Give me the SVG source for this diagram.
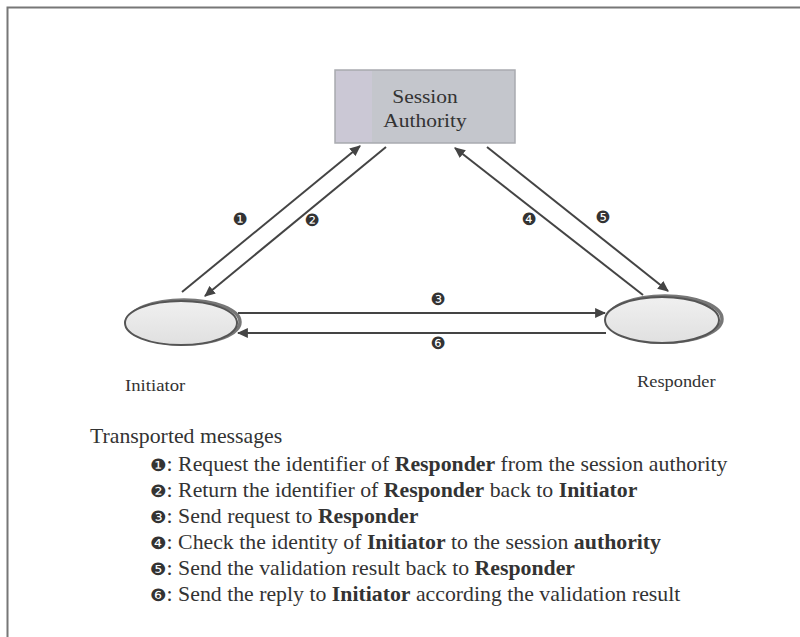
<svg xmlns="http://www.w3.org/2000/svg" width="800" height="637" viewBox="0 0 800 637">
<style>
.t{font-family:"Liberation Serif","Times New Roman",serif;fill:#333}
.b{font-weight:bold}
.n{font-family:"DejaVu Sans",sans-serif;fill:#333}
.c{stroke:#444;stroke-width:2;fill:none}
</style>
<defs>
<marker id="ah" viewBox="0 0 10 10" refX="9" refY="5" markerWidth="11" markerHeight="11" markerUnits="userSpaceOnUse" orient="auto">
<path d="M0,0.5 L10,5 L0,9.5 z" fill="#444"/>
</marker>
<linearGradient id="eg" x1="0" y1="0" x2="0" y2="1">
<stop offset="0" stop-color="#f0f0f0"/><stop offset="1" stop-color="#e0e0e0"/>
</linearGradient>
</defs>
<rect x="0" y="0" width="800" height="637" fill="#fff"/>
<path d="M7.5,637 V7.5 H800" fill="none" stroke="#777" stroke-width="2"/>
<g id="session-authority">
<rect x="335" y="70" width="180" height="73" fill="#c4c6cc" stroke="#a9aab0" stroke-width="1.5"/>
<rect x="336" y="71" width="36" height="71" fill="#cbc8d5"/>
<text class="t" transform="translate(425,103) scale(1.13,1)" font-size="19" text-anchor="middle" fill="#555">Session</text>
<text class="t" transform="translate(425,127) scale(1.13,1)" font-size="19" text-anchor="middle" fill="#555">Authority</text>
</g>
<g id="initiator">
<ellipse cx="184" cy="322" rx="56" ry="22" fill="none" stroke="#777" stroke-width="3.5"/>
<ellipse cx="181" cy="323" rx="56" ry="22" fill="url(#eg)" stroke="#555" stroke-width="2"/>
<text class="t" transform="translate(125,391) scale(1.1,1)" font-size="17">Initiator</text>
</g>
<g id="responder">
<ellipse cx="665" cy="319" rx="57" ry="23" fill="none" stroke="#777" stroke-width="3.5"/>
<ellipse cx="662" cy="320" rx="57" ry="23" fill="url(#eg)" stroke="#555" stroke-width="2"/>
<text class="t" transform="translate(637,387) scale(1.08,1)" font-size="17">Responder</text>
</g>
<g id="connectors">
<line class="c" x1="182" y1="292" x2="360" y2="146" marker-end="url(#ah)"/>
<line class="c" x1="386" y1="147" x2="205" y2="296" marker-end="url(#ah)"/>
<line class="c" x1="238" y1="313" x2="605" y2="313" marker-end="url(#ah)"/>
<line class="c" x1="606" y1="333" x2="238" y2="333" marker-end="url(#ah)"/>
<line class="c" x1="643" y1="295" x2="455" y2="148" marker-end="url(#ah)"/>
<line class="c" x1="487" y1="147" x2="668" y2="291" marker-end="url(#ah)"/>
<text class="n" x="240" y="225" font-size="17" text-anchor="middle">❶</text>
<text class="n" x="312" y="226" font-size="17" text-anchor="middle">❷</text>
<text class="n" x="438" y="305" font-size="17" text-anchor="middle">❸</text>
<text class="n" x="529" y="225" font-size="17" text-anchor="middle">❹</text>
<text class="n" x="603" y="223" font-size="17" text-anchor="middle">❺</text>
<text class="n" x="438" y="349" font-size="17" text-anchor="middle">❻</text>
</g>
<g id="legend">
<text class="t" transform="translate(90,443) scale(1.09,1)" font-size="20">Transported messages</text>
<text class="t" transform="translate(150,471) scale(1.09,1)" font-size="20"><tspan class="n" font-size="17">❶</tspan>: Request the identifier of <tspan class="b">Responder</tspan> from the session authority</text>
<text class="t" transform="translate(150,497) scale(1.09,1)" font-size="20"><tspan class="n" font-size="17">❷</tspan>: Return the identifier of <tspan class="b">Responder</tspan> back to <tspan class="b">Initiator</tspan></text>
<text class="t" transform="translate(150,523) scale(1.09,1)" font-size="20"><tspan class="n" font-size="17">❸</tspan>: Send request to <tspan class="b">Responder</tspan></text>
<text class="t" transform="translate(150,549) scale(1.09,1)" font-size="20"><tspan class="n" font-size="17">❹</tspan>: Check the identity of <tspan class="b">Initiator</tspan> to the session <tspan class="b">authority</tspan></text>
<text class="t" transform="translate(150,575) scale(1.09,1)" font-size="20"><tspan class="n" font-size="17">❺</tspan>: Send the validation result back to <tspan class="b">Responder</tspan></text>
<text class="t" transform="translate(150,601) scale(1.09,1)" font-size="20"><tspan class="n" font-size="17">❻</tspan>: Send the reply to <tspan class="b">Initiator</tspan> according the validation result</text>
</g>
</svg>
